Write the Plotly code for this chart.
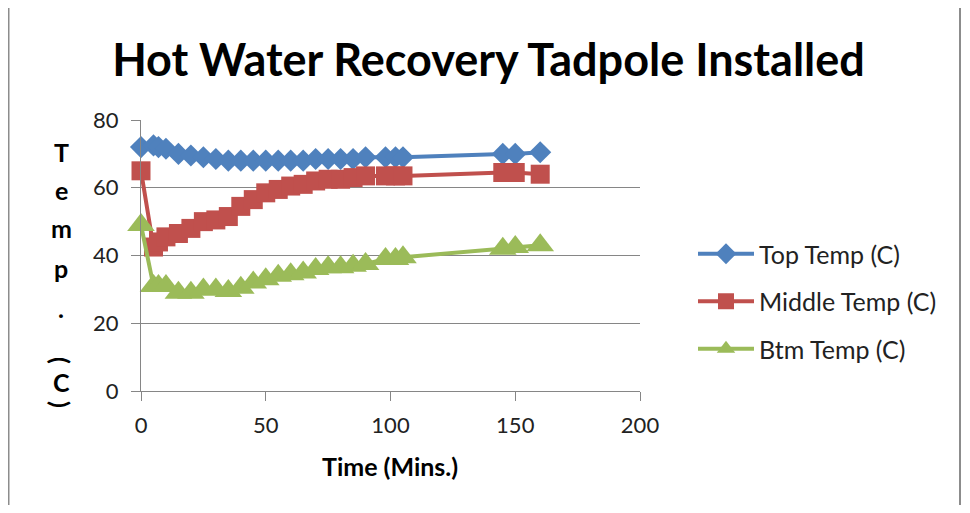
import plotly.graph_objects as go

# ---- data ----
time_min = [0, 5, 7, 10, 15, 20, 25, 30, 35, 40, 45, 50, 55, 60, 65, 70, 75, 80, 85, 90, 98, 102, 105, 145, 150, 160]
top_temp = [72, 72.5, 72, 71.5, 70, 69.5, 69, 68.5, 68, 68, 68, 68, 68, 68, 68, 68.5, 68.5, 68.5, 68.5, 69, 69, 69, 69, 70, 70, 70.5]
middle_temp = [65, 42.5, 44, 45.5, 46.5, 48, 50, 50.5, 51.5, 54.5, 56.5, 58.5, 59.5, 60.5, 61, 62, 62.5, 62.5, 63, 63.5, 63.5, 63.5, 63.5, 64.5, 64.5, 64]
btm_temp = [49, 31, 31, 31, 29, 29, 30, 30, 29.5, 30.5, 32, 33, 34, 34.5, 35, 36, 36.5, 36.5, 37, 37.5, 39, 39, 39.5, 42, 42.5, 43]

series_names = ["Top Temp (C)", "Middle Temp (C)", "Btm Temp (C)"]
series_values = [top_temp, middle_temp, btm_temp]
series_colors = ["#4F81BD", "#C0504D", "#9BBB59"]
series_symbols = ["diamond", "square", "triangle-up"]
series_sizes = [17, 19, 24]

x_ticks = [0, 50, 100, 150, 200]
y_ticks = [0, 20, 40, 60, 80]

chart_title = "Hot Water Recovery Tadpole Installed"
x_title = "Time (Mins.)"
y_title_chars = ["T", "e", "m", "p", ".", "(", "C", ")"]

# ---- layout geometry (page pixels; the page body adds an 8px offset) ----
OFF = 8
W, H = 970 - 2 * OFF, 513 - 2 * OFF
PL, PR, PT, PB = 141 - OFF, 640 - OFF, 120 - OFF, 391 - OFF
FONT = "Lato"
GRID = "#868686"


def px_x(p):
    return (p - OFF - PL) / (PR - PL)


def px_y(p):
    return (PB - (p - OFF)) / (PB - PT)


fig = go.Figure()
for i, (name, vals, col, sym, sz) in enumerate(zip(series_names, series_values, series_colors, series_symbols, series_sizes)):
    fig.add_trace(go.Scatter(
        x=time_min, y=vals, name=name, mode="lines+markers",
        line=dict(color=col, width=4),
        marker=dict(symbol=sym, size=sz, color=col, line=dict(width=0)),
        cliponaxis=False, legendgroup=f"g{i}",
    ))

annotations = []
# stacked y-axis title
y_char_pos = [152, 190, 228, 268, 308, 360, 382, 404]
for ch, yp in zip(y_title_chars, y_char_pos):
    annotations.append(dict(
        text=f"<b>{ch}</b>", x=px_x(61), y=px_y(yp), xref="paper", yref="paper",
        showarrow=False, xanchor="center", yanchor="middle",
        textangle=90 if ch in "()" else 0,
        font=dict(family=FONT, size=25, color="#000000"),
    ))
# x-axis title
annotations.append(dict(
    text=f"<b>{x_title}</b>", x=px_x(390), y=px_y(466), xref="paper", yref="paper",
    showarrow=False, xanchor="center", yanchor="middle",
    font=dict(family=FONT, size=25, color="#000000"),
))

shapes = [
    dict(type="line", xref="paper", yref="paper", x0=px_x(8.5), x1=px_x(8.5), y0=px_y(-10), y1=px_y(530),
         line=dict(color="#8C8C8C", width=2)),
    dict(type="line", xref="paper", yref="paper", x0=px_x(960), x1=px_x(960), y0=px_y(-10), y1=px_y(530),
         line=dict(color="#8C8C8C", width=2)),
]

fig.update_layout(
    width=W, height=H,
    margin=dict(l=PL, r=W - PR, t=PT, b=H - PB, pad=0),
    paper_bgcolor="white", plot_bgcolor="white",
    title=dict(text=f"<b>{chart_title}</b>", x=(488.5 - OFF) / W, xref="container", xanchor="center",
               y=1 - (60 - OFF) / H, yref="container", yanchor="middle",
               font=dict(family=FONT, size=45, color="#000000")),
    xaxis=dict(range=[0, 200], tickvals=x_ticks, showgrid=False, zeroline=False,
               showline=True, linecolor=GRID, linewidth=1,
               ticks="outside", ticklen=9, tickcolor=GRID, tickwidth=1,
               ticklabelstandoff=6,
               tickfont=dict(family=FONT, size=22, color="#222222")),
    yaxis=dict(range=[0, 80], tickvals=y_ticks, showgrid=True, gridcolor=GRID, gridwidth=1,
               zeroline=False, showline=True, linecolor=GRID, linewidth=1,
               ticks="outside", ticklen=9, tickcolor=GRID, tickwidth=1,
               ticklabelstandoff=8,
               tickfont=dict(family=FONT, size=22, color="#222222")),
    legend=dict(x=px_x(693), y=px_y(231), xanchor="left", yanchor="top",
                font=dict(family=FONT, size=25, color="#222222"),
                itemwidth=56, tracegroupgap=12, traceorder="grouped",
                bgcolor="rgba(0,0,0,0)"),
    annotations=annotations,
    shapes=shapes,
)

fig.write_html("out.html")
